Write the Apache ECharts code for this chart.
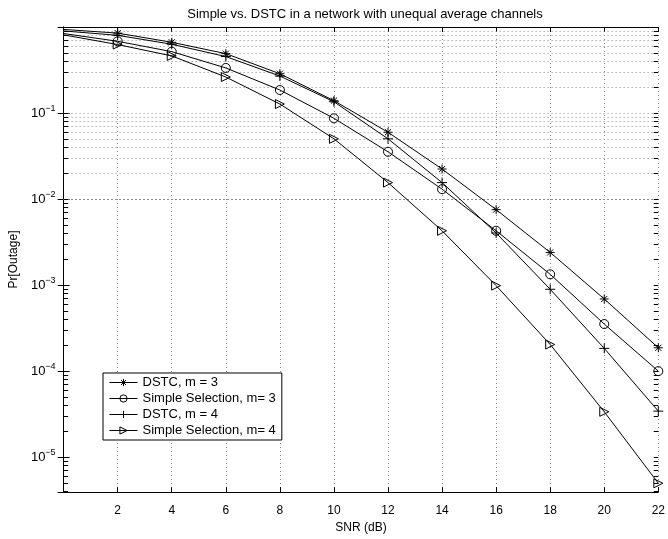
<!DOCTYPE html>
<html>
<head>
<meta charset="utf-8">
<script src="https://cdn.jsdelivr.net/npm/echarts@6/dist/echarts.min.js"></script>
<style>
  html, body { margin: 0; padding: 0; background: #fff; }
  #chart { width: 668px; height: 539px; }
</style>
</head>
<body>
<div id="chart"></div>
<script>
// SNR (dB) and outage probabilities
const snr = [0, 2, 4, 6, 8, 10, 12, 14, 16, 18, 20, 22];
const dstc3 = [0.937, 0.849, 0.664, 0.490, 0.286, 0.139, 0.0597, 0.0223, 0.00752, 0.00239, 6.87e-4, 1.86e-4];
const simple3 = [0.84, 0.682, 0.517, 0.334, 0.185, 0.0867, 0.0354, 0.0130, 0.00427, 0.00133, 3.51e-4, 9.95e-5];
const dstc4 = [0.90, 0.80, 0.63, 0.453, 0.269, 0.135, 0.0501, 0.0155, 0.00402, 8.91e-4, 1.83e-4, 3.41e-5];
const simple4 = [0.81, 0.625, 0.461, 0.262, 0.127, 0.0501, 0.0155, 0.00427, 9.82e-4, 2.03e-4, 3.35e-5, 4.94e-6];
const seriesNames = ["DSTC, m = 3", "Simple Selection, m= 3", "DSTC, m = 4", "Simple Selection, m= 4"];
const xTicks = [2, 4, 6, 8, 10, 12, 14, 16, 18, 20, 22];
const yMin = 3.9e-6, yMax = 1;

const FONT = "Liberation Sans";
let chart = echarts.init(document.getElementById("chart"));

// log grid lines: 1..9 x 10^e
let gridVals = [];
for (let e = -6; e <= -1; e++) {
  for (let k = 1; k <= 9; k++) {
    let v = k * Math.pow(10, e);
    if (v > yMin && v < yMax) gridVals.push(v);
  }
}

function pairs(ys) {
  return ys.map(function (y, i) {
    // first point sits on the left border, marker is cut there
    if (i === 0) return { value: [snr[i], y], symbol: "none" };
    return [snr[i], y];
  });
}

const symbols = [
  "path://M0,5L10,5M5,0L5,10M1.6,1.6L8.4,8.4M1.6,8.4L8.4,1.6",
  "circle",
  "path://M0,5L10,5M5,0L5,10",
  "path://M0,0L10,5L0,10Z"
];
const sizes = [9, 9, 10, 9];
const dataSets = [dstc3, simple3, dstc4, simple4];

let series = dataSets.map(function (d, i) {
  return {
    name: seriesNames[i],
    type: "line",
    data: pairs(d),
    symbol: symbols[i],
    symbolSize: sizes[i],
    showAllSymbol: true,
    clip: true,
    z: 5,
    lineStyle: { color: "#000", width: 1 },
    itemStyle: { color: "transparent", borderColor: "#000", borderWidth: 1 },
    emphasis: { disabled: true }
  };
});

// dotted log grid and the small inward minor ticks on both sides
let minorTicks = [];
gridVals.forEach(function (v) {
  minorTicks.push([{ coord: [0, v] }, { coord: [0.17, v] }]);
  minorTicks.push([{ coord: [21.83, v] }, { coord: [22, v] }]);
});
series.push({
  type: "line",
  data: [],
  silent: true,
  z: 1,
  markLine: {
    silent: true,
    symbol: ["none", "none"],
    label: { show: false },
    animation: false,
    lineStyle: { color: "#8a8a8a", width: 1, type: [1, 3] },
    data: gridVals.map(function (v) { return { yAxis: v }; })
  }
});
series.push({
  type: "line",
  data: [],
  silent: true,
  z: 2,
  markLine: {
    silent: true,
    symbol: ["none", "none"],
    label: { show: false },
    animation: false,
    lineStyle: { color: "#000", width: 1, type: "solid" },
    data: minorTicks
  }
});

function logLabel(v) {
  let e = Math.round(Math.log10(v));
  if (Math.abs(Math.log10(v) - e) > 1e-6 || e >= 0) return "";
  return "{b|10}{s|" + (e < 0 ? "\u2212" + (-e) : e) + "}";
}

let option = {
  animation: false,
  backgroundColor: "#fff",
  textStyle: { fontFamily: FONT },
  title: {
    text: "Simple vs. DSTC in a network with unequal average channels",
    left: 360,
    top: 3,
    textAlign: "center",
    textStyle: { fontFamily: FONT, fontSize: 13, fontWeight: "normal", color: "#000" }
  },
  legend: {
    data: seriesNames,
    orient: "vertical",
    left: 103,
    top: 373,
    itemWidth: 28,
    itemHeight: 9,
    itemGap: 1,
    padding: [2, 6, 2, 6],
    backgroundColor: "#fff",
    borderColor: "#000",
    borderWidth: 1,
    selectedMode: false,
    lineStyle: { width: 1, color: "#000" },
    itemStyle: { color: "transparent", borderColor: "#000", borderWidth: 1 },
    textStyle: { fontFamily: FONT, fontSize: 13, color: "#000", lineHeight: 15 }
  },
  grid: { left: 56, right: 5, top: 27, bottom: 35 },
  xAxis: [
    {
      type: "value",
      min: 0,
      max: 22,
      interval: 2,
      name: "SNR (dB)",
      nameLocation: "middle",
      nameGap: 27,
      nameTextStyle: { fontFamily: FONT, fontSize: 12, color: "#000" },
      axisLine: { lineStyle: { color: "#000", width: 1 } },
      axisTick: { inside: true, length: 5, lineStyle: { color: "#000" } },
      axisLabel: {
        color: "#000", fontFamily: FONT, fontSize: 12, margin: 13,
        showMinLabel: false,
        formatter: function (v) { return xTicks.indexOf(v) >= 0 ? String(v) : ""; }
      },
      splitLine: { show: true, lineStyle: { color: "#8a8a8a", width: 1, type: [1, 3] } }
    },
    {
      type: "value",
      position: "top",
      min: 0,
      max: 22,
      interval: 2,
      axisLine: { show: true, lineStyle: { color: "#000", width: 1 } },
      axisTick: { inside: true, length: 5, lineStyle: { color: "#000" } },
      axisLabel: { show: false },
      splitLine: { show: false }
    }
  ],
  yAxis: [
    {
      type: "log",
      logBase: 10,
      min: yMin,
      max: yMax,
      name: "Pr[Outage]",
      nameLocation: "middle",
      nameGap: 42,
      nameTextStyle: { fontFamily: FONT, fontSize: 12, color: "#000" },
      axisLine: { show: true, lineStyle: { color: "#000", width: 1 } },
      axisTick: { inside: true, length: 6, lineStyle: { color: "#000" } },
      axisLabel: {
        color: "#000",
        margin: 8,
        showMinLabel: false,
        showMaxLabel: false,
        formatter: logLabel,
        rich: {
          b: { fontFamily: FONT, fontSize: 13, color: "#000" },
          s: { fontFamily: FONT, fontSize: 9, color: "#000", padding: [0, 0, 9, 0] }
        }
      },
      splitLine: { show: false }
    },
    {
      type: "log",
      logBase: 10,
      min: yMin,
      max: yMax,
      position: "right",
      axisLine: { show: true, lineStyle: { color: "#000", width: 1 } },
      axisTick: { inside: true, length: 6, lineStyle: { color: "#000" } },
      axisLabel: { show: false },
      splitLine: { show: false }
    }
  ],
  series: series
};

chart.setOption(option);
window.addEventListener("resize", () => {
  chart.resize();
});
</script>
</body>
</html>
